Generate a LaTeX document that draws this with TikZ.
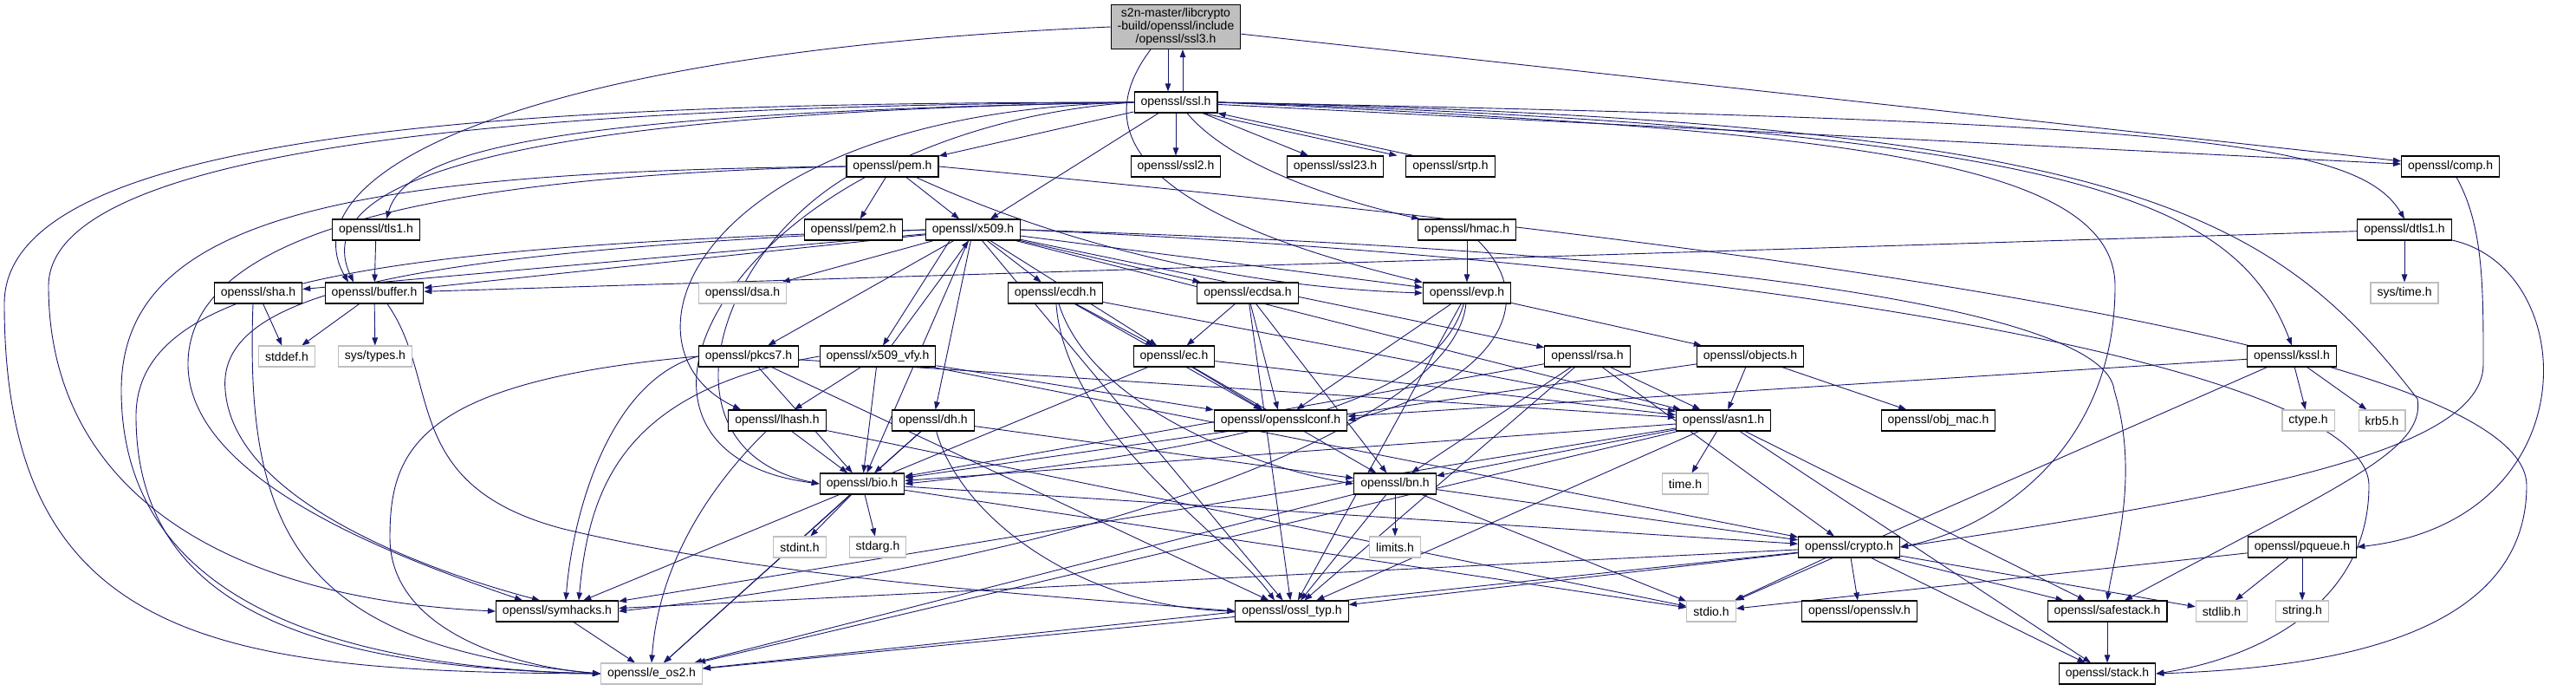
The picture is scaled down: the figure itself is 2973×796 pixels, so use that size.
\documentclass[tikz,border=0pt]{standalone}
\usepackage{fontspec}
\setmainfont{Liberation Sans}
\usetikzlibrary{arrows.meta}
\definecolor{edgeblue}{HTML}{191970}
\definecolor{boxgray}{HTML}{BFBFBF}
\pgfdeclarelayer{edges}
\pgfsetlayers{edges,main}
\tikzset{
  hdr/.style={draw=black, line width=1.1pt, fill=white, inner xsep=7.5pt, inner ysep=0pt, minimum height=24pt, font=\fontsize{14}{15}\selectfont},
  sys/.style={hdr, draw=boxgray},
  inc/.style={draw=edgeblue, line width=0.9pt, -{Triangle[length=9pt,width=6.5pt]}}
}

\begin{document}
\begin{tikzpicture}[x=1pt, y=-1pt]
\useasboundingbox (0,0) rectangle (2973,796);
\node[hdr, fill=boxgray, align=center, inner ysep=4pt] (root) at (1357,31) {s2n-master/libcrypto\\-build/openssl/include\\/openssl/ssl3.h};
\node[hdr] (ssl) at (1357,118) {openssl/ssl.h};
\node[hdr] (pem) at (1030,192) {openssl/pem.h};
\node[hdr] (ssl2) at (1357,192) {openssl/ssl2.h};
\node[hdr] (ssl23) at (1541,192) {openssl/ssl23.h};
\node[hdr] (srtp) at (1674,192) {openssl/srtp.h};
\node[hdr] (comp) at (2828,192) {openssl/comp.h};
\node[hdr] (tls) at (434,265) {openssl/tls1.h};
\node[hdr] (pem2) at (985,265) {openssl/pem2.h};
\node[hdr] (x509) at (1123,265) {openssl/x509.h};
\node[hdr] (hmac) at (1693,265) {openssl/hmac.h};
\node[hdr] (dtls) at (2775,265) {openssl/dtls1.h};
\node[hdr] (sha) at (298,338) {openssl/sha.h};
\node[hdr] (buffer) at (432,338) {openssl/buffer.h};
\node[sys] (dsa) at (857,338) {openssl/dsa.h};
\node[hdr] (ecdh) at (1218,338) {openssl/ecdh.h};
\node[hdr] (ecdsa) at (1440,338) {openssl/ecdsa.h};
\node[hdr] (evp) at (1693,338) {openssl/evp.h};
\node[sys] (systime) at (2775,338) {sys/time.h};
\node[sys] (stddef) at (331,411) {stddef.h};
\node[sys] (systypes) at (433,411) {sys/types.h};
\node[hdr] (pkcs7) at (864,411) {openssl/pkcs7.h};
\node[hdr] (vfy) at (1013,411) {openssl/x509\_vfy.h};
\node[hdr] (ec) at (1355,411) {openssl/ec.h};
\node[hdr] (rsa) at (1832,411) {openssl/rsa.h};
\node[hdr] (objects) at (2020,411) {openssl/objects.h};
\node[hdr] (kssl) at (2645,411) {openssl/kssl.h};
\node[hdr] (lhash) at (897,485) {openssl/lhash.h};
\node[hdr] (dh) at (1077,485) {openssl/dh.h};
\node[hdr] (conf) at (1478,485) {openssl/opensslconf.h};
\node[hdr] (asn1) at (1989,485) {openssl/asn1.h};
\node[hdr] (objmac) at (2237,485) {openssl/obj\_mac.h};
\node[sys] (ctype) at (2664,485) {ctype.h};
\node[sys] (krb5) at (2749,485) {krb5.h};
\node[hdr] (bio) at (995,558) {openssl/bio.h};
\node[hdr] (bn) at (1610,558) {openssl/bn.h};
\node[sys] (time) at (1945,558) {time.h};
\node[sys] (stdint) at (923,631) {stdint.h};
\node[sys] (stdarg) at (1013,631) {stdarg.h};
\node[sys] (limits) at (1610,631) {limits.h};
\node[hdr] (crypto) at (2134,631) {openssl/crypto.h};
\node[hdr] (pqueue) at (2657,631) {openssl/pqueue.h};
\node[hdr] (symhacks) at (643,705) {openssl/symhacks.h};
\node[hdr] (ossl) at (1491,705) {openssl/ossl\_typ.h};
\node[sys] (stdio) at (1975,705) {stdio.h};
\node[hdr] (opensslv) at (2146,705) {openssl/opensslv.h};
\node[hdr] (safestack) at (2432,705) {openssl/safestack.h};
\node[sys] (stdlib) at (2564,705) {stdlib.h};
\node[sys] (string) at (2657,705) {string.h};
\node[sys] (eos) at (752,777) {openssl/e\_os2.h};
\node[hdr] (stack) at (2432,777) {openssl/stack.h};
\begin{pgfonlayer}{edges}
\fill[white] (0,0) rectangle (2973,796);
\draw[inc] ([xshift=-9pt]root.south) -- ([xshift=-9pt]ssl.north);
\draw[inc] ([xshift=8pt]ssl.north) -- ([xshift=8pt]root.south);
\draw[inc] (root.west) .. controls (600,60) and (330,200) .. ([xshift=-30pt]buffer.north);
\draw[inc] ([xshift=-29pt]root.south) .. controls (1250,160) and (1330,250) .. (evp);
\draw[inc] (root) -- (comp);
\draw[inc] (ssl.west) .. controls (600,118) and (5,150) .. (5,350) .. controls (5,740) and (250,775) .. (eos.west);
\draw[inc] (ssl.west) .. controls (600,122) and (56,170) .. (56,330) .. controls (56,560) and (250,690) .. (symhacks.west);
\draw[inc] (ssl.west) .. controls (620,130) and (350,200) .. ([xshift=-24pt]buffer.north);
\draw[inc] (ssl.west) .. controls (650,130) and (470,170) .. ([xshift=12pt]tls.north);
\draw[inc] (ssl.west) .. controls (800,130) and (700,400) .. ([xshift=-42pt]lhash.north);
\draw[inc] (ssl.west) .. controls (850,150) and (650,520) .. (bio.west);
\draw[inc] (ssl) -- (pem);
\draw[inc] (ssl) -- (x509);
\draw[inc] (ssl) -- (ssl2);
\draw[inc] (ssl) -- (ssl23);
\draw[inc] ([xshift=-17pt]ssl.south east) -- ([xshift=-10pt]srtp.north west);
\draw[inc] ([xshift=9pt]srtp.north west) -- (ssl.south east);
\draw[inc] ([xshift=13pt]ssl.south) .. controls (1420,190) and (1540,230) .. (hmac);
\draw[inc] (ssl) -- (comp);
\draw[inc] (ssl.east) .. controls (2500,140) and (2720,160) .. (dtls.north);
\draw[inc] (ssl.east) .. controls (2400,150) and (2580,230) .. (kssl.north);
\draw[inc] (ssl.east) .. controls (2100,150) and (2441,180) .. (2441,330) .. controls (2441,520) and (2300,610) .. (crypto.east);
\draw[inc] (ssl.east) .. controls (2450,140) and (2620,240) .. (2790,460) .. controls (2800,520) and (2700,560) .. ([xshift=20pt]safestack.north);
\draw[inc] (comp) .. controls (2866,260) and (2866,330) .. (2866,420) .. controls (2866,520) and (2600,570) .. (crypto.east);
\draw[inc] (pem.west) .. controls (400,198) and (140,250) .. (140,450) .. controls (140,700) and (400,770) .. (eos.west);
\draw[inc] (pem.west) .. controls (420,205) and (217,290) .. (217,420) .. controls (217,560) and (480,650) .. ([xshift=-40pt]symhacks.north);
\draw[inc] (pem.south west) .. controls (820,300) and (760,520) .. (bio.west);
\draw[inc] (pem) -- (pem2);
\draw[inc] (pem) -- (x509);
\draw[inc] (pem) .. controls (1200,270) and (1400,330) .. (evp.west);
\draw[inc] (pem.east) .. controls (1800,260) and (2916,380) .. (2916,560) .. controls (2916,730) and (2700,770) .. (stack.east);
\draw[inc] (tls) -- (buffer);
\draw[inc] (hmac) -- (evp);
\draw[inc] (hmac) .. controls (1790,360) and (1700,450) .. (conf.east);
\draw[inc] (dtls) -- (buffer);
\draw[inc] (dtls) -- (systime);
\draw[inc] (dtls) .. controls (2980,310) and (2990,600) .. (pqueue.east);
\draw[inc] (x509.west) .. controls (450,285) and (157,320) .. (157,480) .. controls (157,720) and (400,770) .. (eos.west);
\draw[inc] (x509.west) .. controls (450,292) and (250,340) .. (260,450) .. controls (270,580) and (500,660) .. ([xshift=-20pt]symhacks.north);
\draw[inc] (x509) -- (buffer);
\draw[inc] (x509) -- (evp);
\draw[inc] (x509) -- (bio);
\draw[inc] (x509.east) .. controls (2000,300) and (2734,420) .. (2734,560) .. controls (2734,700) and (2600,760) .. (stack.east);
\draw[inc] (x509) -- (asn1);
\draw[inc] (x509.east) .. controls (2000,290) and (2430,360) .. (2440,450) .. controls (2470,550) and (2440,640) .. (safestack.north);
\draw[inc] (x509) -- (ec);
\draw[inc] (x509) -- (ecdsa);
\draw[inc] (x509) -- (ecdh);
\draw[inc] (x509) -- (rsa);
\draw[inc] (x509) -- (dsa);
\draw[inc] (x509) -- (dh);
\draw[inc] (x509) -- (sha);
\draw[inc] (x509) -- (ossl);
\draw[inc] ([xshift=-27pt]x509.south) -- ([xshift=6pt]vfy.north);
\draw[inc] ([xshift=16pt]vfy.north) -- ([xshift=-5pt]x509.south);
\draw[inc] (x509) -- (pkcs7);
\draw[inc] ([xshift=-6pt]sha.south) .. controls (282,620) and (350,745) .. (eos.west);
\draw[inc] (sha) -- (stddef);
\draw[inc] (buffer) -- (stddef);
\draw[inc] (buffer) -- (systypes);
\draw[inc] ([xshift=15pt]buffer.south) .. controls (510,440) and (460,560) .. (650,610) .. controls (900,670) and (1250,690) .. (ossl.west);
\draw[inc] (ecdh) -- (conf);
\draw[inc] (ecdh) -- (asn1);
\draw[inc] (ecdh) -- (ec);
\draw[inc] (ecdh) .. controls (1230,500) and (1420,620) .. ([xshift=-20pt]ossl.north);
\draw[inc] (ecdh) .. controls (1260,470) and (1450,540) .. (bn.west);
\draw[inc] (ecdsa) -- (conf);
\draw[inc] (ecdsa) -- (ec);
\draw[inc] (ecdsa) -- (ossl);
\draw[inc] (ecdsa) -- (bn);
\draw[inc] (evp) -- (conf);
\draw[inc] (evp) -- (ossl);
\draw[inc] (evp) .. controls (1680,480) and (1300,640) .. (symhacks.east);
\draw[inc] (evp) .. controls (1660,450) and (1500,510) .. (bio.east);
\draw[inc] (evp) -- (objects);
\draw[inc] (pkcs7) -- (asn1);
\draw[inc] (pkcs7) -- (bio);
\draw[inc] (pkcs7.west) .. controls (480,440) and (450,520) .. (450,620) .. controls (450,730) and (600,770) .. (eos.west);
\draw[inc] (pkcs7.west) .. controls (700,440) and (660,600) .. ([xshift=10pt]symhacks.north);
\draw[inc] (pkcs7) -- (ossl);
\draw[inc] (vfy) -- (conf);
\draw[inc] (vfy) -- (lhash);
\draw[inc] (vfy) -- (bio);
\draw[inc] (vfy) -- (crypto);
\draw[inc] (vfy.west) .. controls (720,450) and (680,560) .. ([xshift=25pt]symhacks.north);
\draw[inc] (ec) -- (conf);
\draw[inc] (ec) -- (asn1);
\draw[inc] (ec) -- (symhacks);
\draw[inc] (ec) -- (bn);
\draw[inc] (rsa) -- (asn1);
\draw[inc] (rsa) -- (bio);
\draw[inc] (rsa) -- (crypto);
\draw[inc] (rsa) -- (ossl);
\draw[inc] (rsa) -- (bn);
\draw[inc] (objects) -- (objmac);
\draw[inc] (objects) -- (bio);
\draw[inc] (objects) -- (asn1);
\draw[inc] (kssl) -- (conf);
\draw[inc] (kssl) -- (stdio);
\draw[inc] (kssl) -- (ctype);
\draw[inc] (kssl) -- (krb5);
\draw[inc] (lhash) .. controls (820,560) and (760,650) .. (eos.north);
\draw[inc] (lhash) -- (stdio);
\draw[inc] (lhash) -- (bio);
\draw[inc] (dh) -- (eos);
\draw[inc] (dh) -- (bio);
\draw[inc] (dh) .. controls (1110,600) and (1250,700) .. (ossl.west);
\draw[inc] (dh) -- (bn);
\draw[inc] (asn1) -- (time);
\draw[inc] (asn1) -- (eos);
\draw[inc] (asn1) -- (bio);
\draw[inc] (asn1) -- (stack);
\draw[inc] (asn1) -- (safestack);
\draw[inc] (asn1) -- (symhacks);
\draw[inc] (asn1) -- (ossl);
\draw[inc] (asn1) -- (bn);
\draw[inc] (bio) -- (eos);
\draw[inc] (bio) -- (stdio);
\draw[inc] (bio) -- (stdarg);
\draw[inc] (bio) -- (crypto);
\draw[inc] (bio) -- (stdint);
\draw[inc] (bn) -- (limits);
\draw[inc] (bn) -- (eos);
\draw[inc] (bn) -- (stdio);
\draw[inc] (bn) -- (ossl);
\draw[inc] (bn) -- (crypto);
\draw[inc] (crypto) -- (stdlib);
\draw[inc] (crypto) -- (eos);
\draw[inc] (crypto) -- (stdio);
\draw[inc] (crypto) -- (stack);
\draw[inc] (crypto) -- (safestack);
\draw[inc] (crypto) -- (opensslv);
\draw[inc] (crypto) -- (ossl);
\draw[inc] (crypto) -- (symhacks);
\draw[inc] (pqueue) -- (stdio);
\draw[inc] (pqueue) -- (stdlib);
\draw[inc] (pqueue) -- (string);
\draw[inc] (safestack) -- (stack);
\draw[inc] (symhacks) -- (eos);
\draw[inc] (ossl) -- (eos);
\end{pgfonlayer}
\end{tikzpicture}
\end{document}
